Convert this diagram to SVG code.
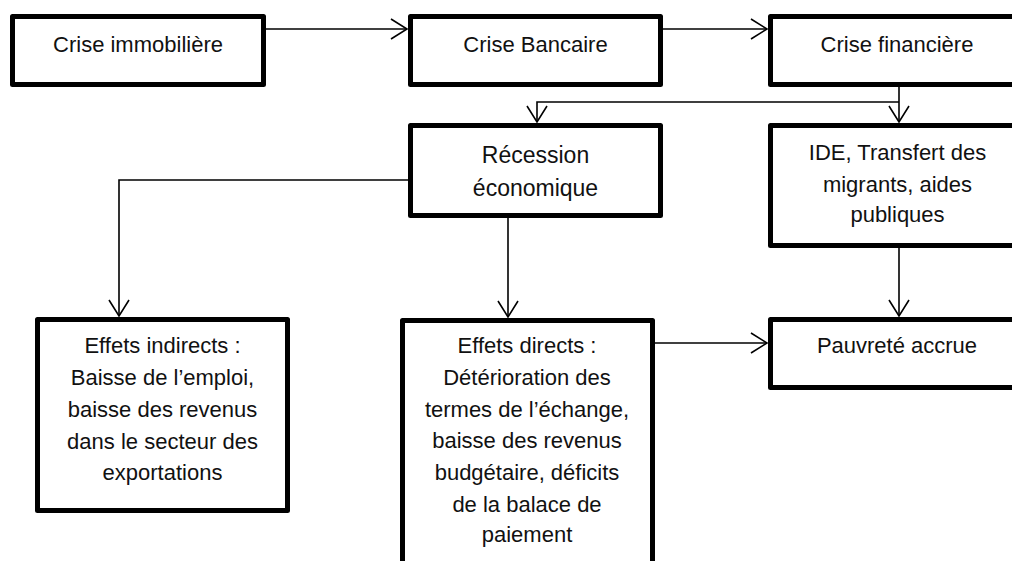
<svg xmlns="http://www.w3.org/2000/svg" width="1012" height="561" viewBox="0 0 1012 561">
<defs>
<style>
.box{fill:#fff;stroke:#000;stroke-width:5;stroke-linejoin:round}
.t{font-family:"Liberation Sans",Arial,sans-serif;font-size:22px;fill:#111;text-anchor:middle}
.tb{font-family:"Liberation Sans",Arial,sans-serif;font-size:23px;fill:#111;text-anchor:middle}
.c{fill:none;stroke:#000;stroke-width:1.6}
</style>
<marker id="ah" markerUnits="userSpaceOnUse" markerWidth="20" markerHeight="24" viewBox="-18 -12 20 24" refX="0" refY="0" orient="auto">
<path d="M-16,-10 L0,0 L-16,10" fill="none" stroke="#000" stroke-width="1.6"/>
</marker>
</defs>
<rect width="1012" height="561" fill="#fff"/>
<g id="connectors">
<path class="c" d="M266,29 H407" marker-end="url(#ah)"/>
<path class="c" d="M663,29 H767" marker-end="url(#ah)"/>
<path class="c" d="M899,87 V122" marker-end="url(#ah)"/>
<path class="c" d="M899,102 H537 V122" marker-end="url(#ah)"/>
<path class="c" d="M408,180 H119 V316" marker-end="url(#ah)"/>
<path class="c" d="M508,218 V317" marker-end="url(#ah)"/>
<path class="c" d="M655,343 H767" marker-end="url(#ah)"/>
<path class="c" d="M899,248 V316" marker-end="url(#ah)"/>
</g>
<g id="crise-immobiliere">
<rect class="box" x="12.5" y="16.5" width="251" height="68"/>
<text class="t" x="138" y="52">Crise immobilière</text>
</g>
<g id="crise-bancaire">
<rect class="box" x="410.5" y="16.5" width="250" height="68"/>
<text class="t" x="535.5" y="52">Crise Bancaire</text>
</g>
<g id="crise-financiere">
<rect class="box" x="770.5" y="16.5" width="256" height="68"/>
<text class="t" x="897" y="52">Crise financière</text>
</g>
<g id="recession">
<rect class="box" x="410.5" y="125.5" width="250" height="90"/>
<text class="tb" x="535.5" y="163">Récession</text>
<text class="tb" x="535.5" y="196">économique</text>
</g>
<g id="ide">
<rect class="box" x="770.5" y="125.5" width="256" height="120"/>
<text class="t" x="897.5" y="160">IDE, Transfert des</text>
<text class="t" x="897.5" y="192">migrants, aides</text>
<text class="t" x="897.5" y="222">publiques</text>
</g>
<g id="effets-indirects">
<rect class="box" x="37.5" y="319.5" width="250" height="191"/>
<text class="t" x="162.5" y="353">Effets indirects :</text>
<text class="t" x="162.5" y="385">Baisse de l’emploi,</text>
<text class="t" x="162.5" y="417">baisse des revenus</text>
<text class="t" x="162.5" y="449">dans le secteur des</text>
<text class="t" x="162.5" y="480">exportations</text>
</g>
<g id="effets-directs">
<rect class="box" x="402.5" y="320.5" width="250" height="270"/>
<text class="t" x="527" y="353">Effets directs :</text>
<text class="t" x="527" y="385">Détérioration des</text>
<text class="t" x="527" y="417">termes de l’échange,</text>
<text class="t" x="527" y="448">baisse des revenus</text>
<text class="t" x="527" y="480">budgétaire, déficits</text>
<text class="t" x="527" y="512">de la balace de</text>
<text class="t" x="527" y="542">paiement</text>
</g>
<g id="pauvrete">
<rect class="box" x="770.5" y="319.5" width="256" height="68"/>
<text class="t" x="897" y="353">Pauvreté accrue</text>
</g>
</svg>
